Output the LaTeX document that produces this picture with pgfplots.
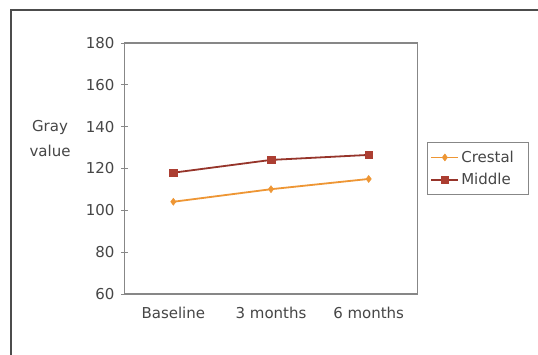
\documentclass[border=0pt]{standalone}
\usepackage{fontspec}
\setmainfont{DejaVu Sans}
\usepackage{pgfplots}
\pgfplotsset{compat=1.18}
\definecolor{crestal}{RGB}{238,150,52}
\definecolor{middle}{RGB}{150,52,42}
\definecolor{middlefill}{RGB}{172,62,50}
\definecolor{txt}{RGB}{70,70,70}
\definecolor{axgray}{RGB}{135,135,135}
\begin{document}
\begin{tikzpicture}
\useasboundingbox (0,0) rectangle (538pt,354pt);
\fill[white] (0,0) rectangle (538pt,354pt);
\draw[line width=1.5pt, black!70] (11pt,-2pt) -- (11pt,344pt) -- (545pt,344pt);
\node[align=center, text=txt, font=\fontsize{15}{25}\selectfont] at (50pt,215pt) {Gray\\value};
\begin{axis}[
  at={(124.5pt,60pt)}, anchor=south west,
  scale only axis, width=293pt, height=251pt,
  xmin=-0.5, xmax=2.5, ymin=60, ymax=180,
  ytick={60,80,100,120,140,160,180},
  xtick={0,1,2},
  xticklabels={Baseline,3 months,6 months},
  xtick pos=bottom, ytick pos=left,
  x tick style={draw=none},
  extra x ticks={0.068,1.113,2.136},
  extra x tick labels={},
  extra x tick style={tick style={draw=axgray, line width=0.8pt}, tick align=inside, major tick length=6pt, xtick pos=bottom},
  y tick style={draw=axgray, line width=0.8pt},
  ytick align=center, major tick length=7pt,
  axis line style={draw=axgray, line width=1.2pt},
  tick label style={text=txt, font=\fontsize{15}{18}\selectfont},
  /pgf/number format/assume math mode=true,
  yticklabel style={xshift=-3pt},
  xticklabel style={yshift=-10pt},
  legend style={at={(1.0324,0.6056)}, anchor=north west, draw=axgray, line width=1pt,
    font=\fontsize{15}{18}\selectfont, text=txt, inner xsep=3pt, inner ysep=6.5pt, row sep=5.5pt,
    /tikz/every even column/.append style={column sep=2pt}},
  legend cell align=left,
  legend image code/.code={%
    \draw[mark repeat=2,mark phase=2,#1] plot coordinates {(0pt,0pt) (13.5pt,0pt) (27pt,0pt)};},
  clip=false,
]
\addplot[color=crestal, line width=1.8pt, mark=diamond*, mark size=3.5pt, mark options={fill=crestal, draw=crestal, line width=0.5pt}]
  coordinates {(0,104.1) (1,110.1) (2,115.0)};
\addlegendentry{\makebox[62pt][l]{Crestal}}
\addplot[color=middle, line width=1.8pt, mark=square*, mark size=3.8pt, mark options={fill=middlefill, draw=middlefill, line width=0.5pt}]
  coordinates {(0,118.0) (1,124.1) (2,126.5)};
\addlegendentry{\makebox[62pt][l]{Middle}}
\end{axis}
\end{tikzpicture}
\end{document}
